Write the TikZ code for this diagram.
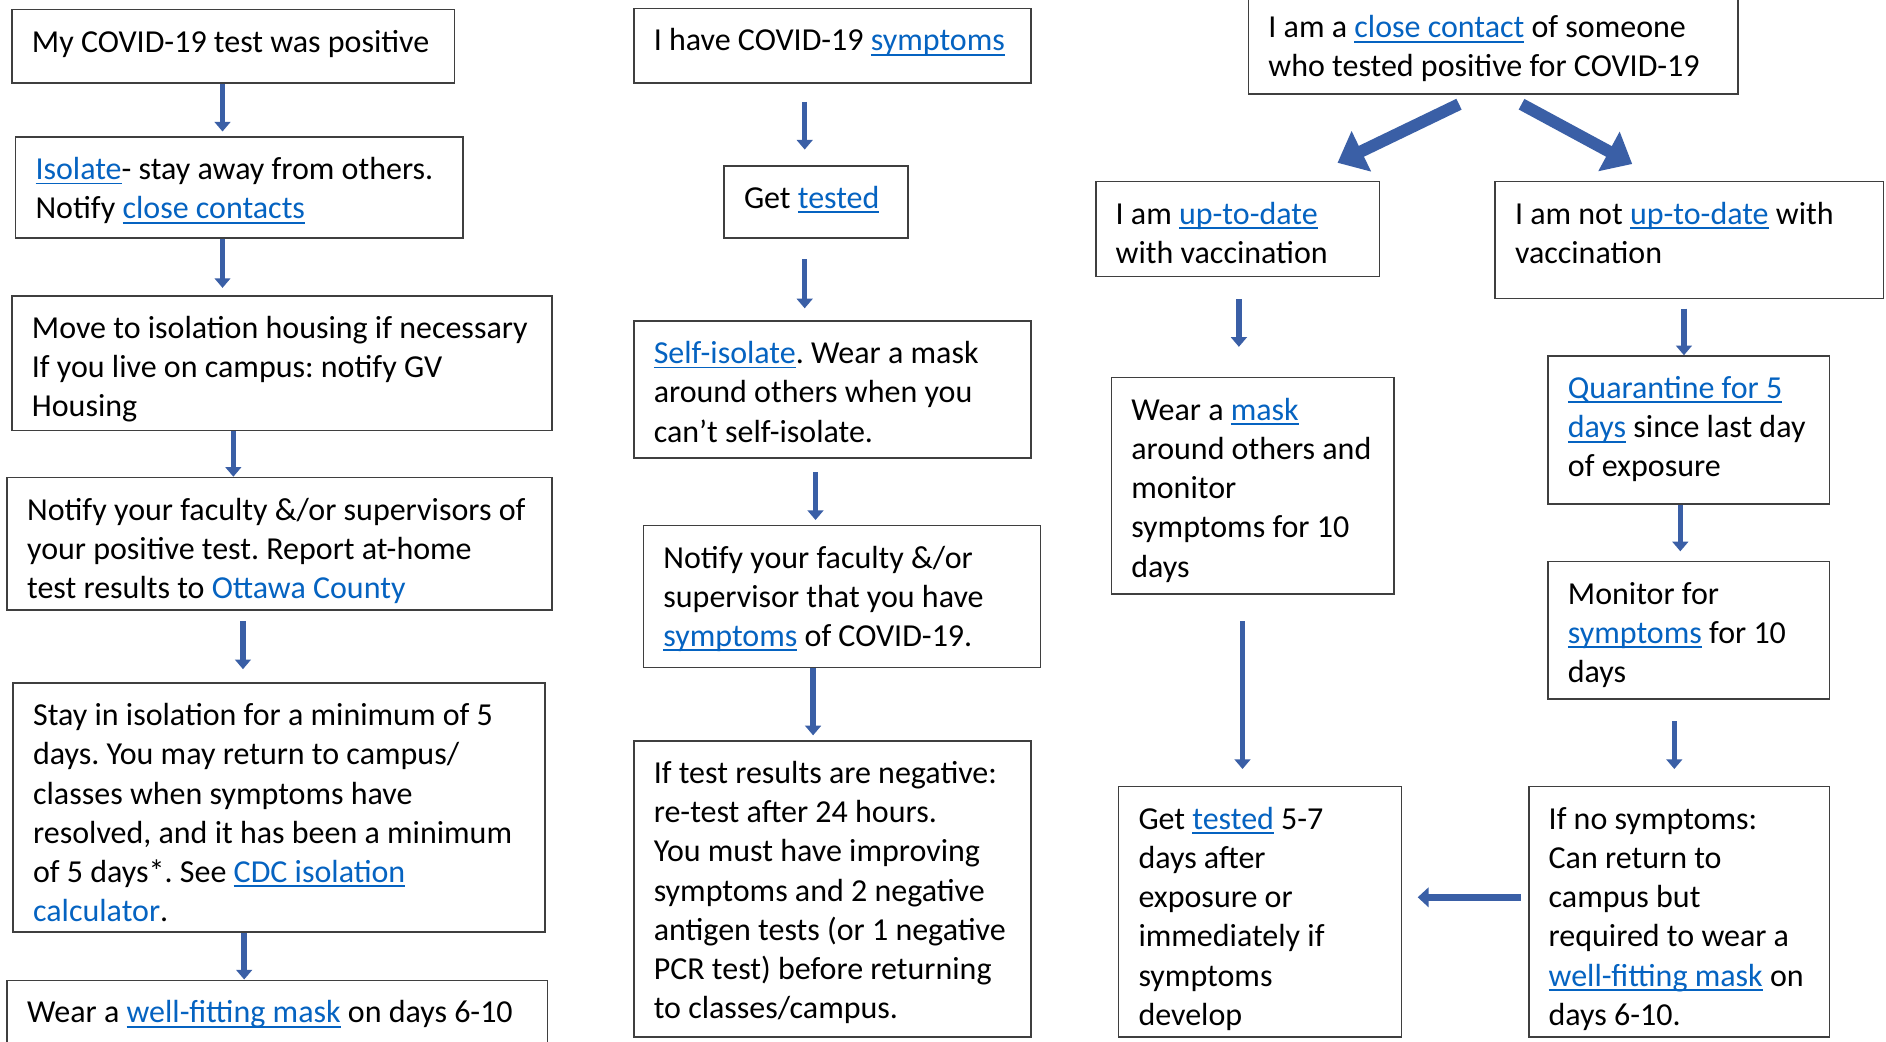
\documentclass[tikz,border=0pt]{standalone}
\usepackage{fontspec}
\setmainfont{Carlito}
\usetikzlibrary{calc,arrows.meta}
\definecolor{link}{HTML}{0563C1}
\definecolor{arr}{HTML}{3A5FA6}
\definecolor{edge}{HTML}{3F3F3F}
\newsavebox\lnkbox
\newcommand\lnk[1]{\textcolor{link}{\sbox\lnkbox{#1}\rlap{\rule[-4pt]{\wd\lnkbox}{1.6pt}}\usebox\lnkbox}}
\newcommand\plain[1]{\textcolor{link}{#1}}
\tikzset{
  box/.style={draw=edge, line width=1.3pt, rectangle, inner sep=0pt, fill=white},
  txt/.style={inner sep=0pt, font=\fontsize{26.6}{32.6}\selectfont\frenchspacing, text=black},
  varrow/.style={draw=arr, line width=4.5pt, -{Triangle[width=13pt,length=8pt]}},
  harrow/.style={draw=arr, line width=6pt, -{Triangle[width=16pt,length=9pt]}},
  darrow/.style={draw=arr, line width=10pt, -{Triangle[width=36pt,length=22pt]}}
}
\newcommand\bx[6]{%
  \node[box, minimum width={#4-#2}, minimum height={#5-#3}] (#1) at ({(#2+#4)/2},{(#3+#5)/2}) {};
  \node[txt, anchor=base west] (#1t) at ($(#1.north west)+(17,36)$) {\parbox[t]{700pt}{\frenchspacing #6}};
}
\begin{document}
\begin{tikzpicture}[x=1pt,y=-1pt]
\useasboundingbox (0,0) rectangle (1568,866);
\fill[white] (0,0) rectangle (1568,866);
% column 1
\bx{A}{10}{8}{378}{69}{My COVID-19 test was positive}
\bx{B}{13}{114}{385}{198}{\lnk{Isolate}- stay away from others.\\Notify \lnk{close contacts}}
\bx{C}{10}{246}{459}{358}{Move to isolation housing if necessary\\If you live on campus: notify GV\\Housing}
\bx{D}{6}{397}{459}{507}{Notify your faculty \&/or supervisors of\\your positive test. Report at-home\\test results to \plain{Ottawa County}}
\bx{E}{11}{568}{453}{775}{Stay in isolation for a minimum of 5\\days. You may return to campus/\\classes when symptoms have\\resolved, and it has been a minimum\\of 5 days*. See \lnk{CDC isolation}\\\plain{calculator}.}
\bx{F}{6}{815}{455}{890}{Wear a \lnk{well-fitting mask} on days 6-10}
% column 2
\bx{G}{527}{7}{857}{69}{I have COVID-19 \lnk{symptoms}}
\bx{H}{602}{138}{755}{198}{Get \lnk{tested}}
\bx{I}{527}{267}{857}{381}{\lnk{Self-isolate}. Wear a mask\\around others when you\\can’t self-isolate.}
\bx{J}{535}{437}{865}{555}{Notify your faculty \&/or\\supervisor that you have\\\lnk{symptoms} of COVID-19.}
\bx{K}{527}{616}{857}{862}{If test results are negative:\\re-test after 24 hours.\\You must have improving\\symptoms and 2 negative\\antigen tests (or 1 negative\\PCR test) before returning\\to classes/campus.}
% column 3
\bx{L}{1038}{-4}{1445}{78}{I am a \lnk{close contact} of someone\\who tested positive for COVID-19}
\bx{M}{911}{151}{1147}{230}{I am \lnk{up-to-date}\\with vaccination}
\bx{N}{1243}{151}{1566}{248}{I am not \lnk{up-to-date} with\\vaccination}
\bx{O}{924}{314}{1159}{494}{Wear a \lnk{mask}\\around others and\\monitor\\symptoms for 10\\days}
\bx{P}{1287}{296}{1521}{419}{\lnk{Quarantine for 5}\\\lnk{days} since last day\\of exposure}
\bx{Q}{1287}{467}{1521}{581}{Monitor for\\\lnk{symptoms} for 10\\days}
\bx{R}{930}{654}{1165}{862}{Get \lnk{tested} 5-7\\days after\\exposure or\\immediately if\\symptoms\\develop}
\bx{S}{1271}{654}{1521}{862}{If no symptoms:\\Can return to\\campus but\\required to wear a\\\lnk{well-fitting mask} on\\days 6-10.}
% arrows
\draw[varrow] (A.south -| 185,0) -- ($(B.north -| 185,0)+(0,-4)$);
\draw[varrow] (B.south -| 185,0) -- ($(C.north -| 185,0)+(0,-6)$);
\draw[varrow] (C.south -| 194,0) -- (D.north -| 194,0);
\draw[varrow] ($(D.south -| 202,0)+(0,9)$) -- ($(E.north -| 202,0)+(0,-11)$);
\draw[varrow] (E.south -| 203,0) -- (F.north -| 203,0);
\draw[varrow] ($(G.south -| 669,0)+(0,15)$) -- ($(H.north -| 669,0)+(0,-13)$);
\draw[varrow] ($(H.south -| 669,0)+(0,17)$) -- ($(I.north -| 669,0)+(0,-10)$);
\draw[varrow] ($(I.south -| 678,0)+(0,11)$) -- ($(J.north -| 678,0)+(0,-4)$);
\draw[varrow] (J.south -| 676,0) -- ($(K.north -| 676,0)+(0,-4)$);
\draw[varrow] ($(M.south -| 1030,0)+(0,18)$) -- ($(O.north -| 1030,0)+(0,-25)$);
\draw[varrow] ($(N.south -| 1400,0)+(0,8)$) -- (P.north -| 1400,0);
\draw[varrow] (P.south -| 1397,0) -- ($(Q.north -| 1397,0)+(0,-8)$);
\draw[varrow] ($(O.south -| 1033,0)+(0,22)$) -- ($(R.north -| 1033,0)+(0,-14)$);
\draw[varrow] ($(Q.south -| 1392,0)+(0,18)$) -- ($(S.north -| 1392,0)+(0,-14)$);
\draw[harrow] ($(S.west |- 0,746)+(-6,0)$) -- ($(R.east |- 0,746)+(13,0)$);
\draw[darrow] ($(L.south -| 1213,0)+(0,8)$) -- ($(M.north -| 1112,0)+(0,-15)$);
\draw[darrow] ($(L.south -| 1265,0)+(0,8)$) -- ($(N.north -| 1357,0)+(0,-14)$);
\end{tikzpicture}
\end{document}
